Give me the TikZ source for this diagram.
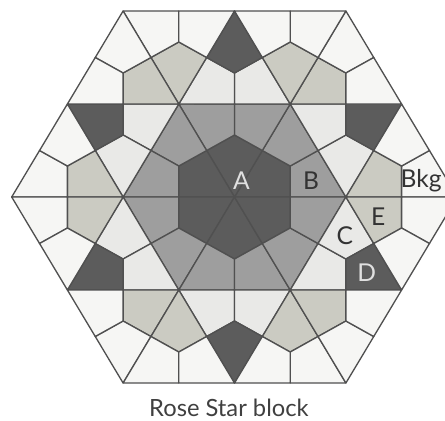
\documentclass[tikz,border=0pt]{standalone}
\usepackage{fontspec}
\setmainfont{Lato}
\definecolor{tiledark}{HTML}{5C5C5C}
\definecolor{tilemid}{HTML}{9E9E9E}
\definecolor{tiletan}{HTML}{CBCBC2}
\definecolor{tilelight}{HTML}{E9E9E7}
\definecolor{tilebkg}{HTML}{F6F6F4}
\definecolor{tileline}{HTML}{505050}

\begin{document}
\begin{tikzpicture}[
      x=0.557cm, y=0.32158cm, yscale=0.964,
      tile/.style={draw=tileline, line width=0.75pt, line join=round},
      dark/.style={tile, fill=tiledark},
      mid/.style={tile, fill=tilemid},
      tan/.style={tile, fill=tiletan},
      light/.style={tile, fill=tilelight},
      bkg/.style={tile, fill=tilebkg},
      label/.style={font=\fontsize{14}{14}\selectfont, text=black!80, inner sep=0pt},
      whitelabel/.style={label, text=white!88!black}
    ]
    \clip (-4.69cm,-4.647cm) rectangle (4.21cm,4.087cm);

    \foreach \r in {0,60,...,300} {
      \begin{scope}[rotate=\r]
        \path [dark] (0,0) -- (2,0) -- (2,2) -- (1,3) -- cycle;
        \path [mid] (2,0) -- (4,0) -- (3,3) -- (2,2) -- cycle;
        \path [mid] (1,3) -- (2,2) -- (3,3) -- (2,6) -- cycle;
        \path [light] (4,0) -- (5,3) -- (4,4) -- (3,3) -- cycle;
        \path [light] (2,6) -- (3,3) -- (4,4) -- (4,6) -- cycle;
        \path [dark] (6,6) -- (4,6) -- (4,4) -- (5,3) -- cycle;
        \path [tan] (4,0) -- (6,0) -- (6,2) -- (5,3) -- cycle;
        \path [tan] (2,6) -- (4,6) -- (4,8) -- (3,9) -- cycle;
        \path [bkg] (6,0) -- (8,0) -- (7,3) -- (6,2) -- cycle;
        \path [bkg] (4,12) -- (3,9) -- (4,8) -- (5,9) -- cycle;
        \path [bkg] (7,3) -- (6,6) -- (5,3) -- (6,2) -- cycle;
        \path [bkg] (5,9) -- (4,8) -- (4,6) -- (6,6) -- cycle;
      \end{scope}
    }

    \node [whitelabel] (labela) at (0.25,1.08) {A};
    \node [label] (labelb) at (2.75,1.08) {B};
    \node [label] (labelbkg) at (6.7,1.03) {Bkg};
    \node [label] (labelc) at (3.96,-2.5) {C};
    \node [label] (labele) at (5.16,-1.3) {E};
    \node [whitelabel] (labeld) at (4.75,-4.9) {D};
    \node [font=\fontsize{13.5}{14}\selectfont, text=black!75, inner sep=0pt] (caption) at (-0.2,-13.6) {Rose Star block};
  \end{tikzpicture}
\end{document}
